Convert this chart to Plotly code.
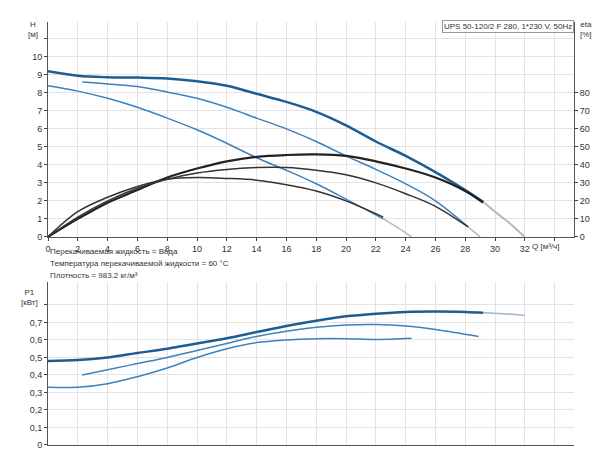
import plotly.graph_objects as go

# head curves H [m]
q_hmax = [0, 2, 4, 6, 8, 10, 12, 14, 16, 18, 20, 22, 24, 26, 28, 29.2]
h_max = [9.2, 8.95, 8.87, 8.85, 8.8, 8.65, 8.4, 7.95, 7.5, 6.95, 6.2, 5.3, 4.5, 3.6, 2.6, 1.95]
q_hmid = [2.3, 4, 6, 8, 10, 12, 14, 16, 18, 20, 22, 24, 26, 28.2]
h_mid = [8.6, 8.5, 8.35, 8.05, 7.7, 7.2, 6.6, 6.0, 5.3, 4.5, 3.75, 2.95, 2.0, 0.55]
q_hmin = [0, 2, 4, 6, 8, 10, 12, 14, 16, 18, 20, 22.5]
h_min = [8.4, 8.1, 7.7, 7.2, 6.6, 5.95, 5.2, 4.4, 3.7, 2.95, 2.1, 1.0]
# grey extensions
q_tmax = [29.2, 30, 31, 32]
h_tmax = [1.95, 1.4, 0.75, 0]
q_tmid = [28.2, 28.6, 29]
h_tmid = [0.55, 0.28, 0]
q_tmin = [22.5, 23.5, 24.4]
h_tmin = [1.0, 0.5, 0]

# efficiency eta [%]
q_emax = [0, 2, 4, 6, 8, 10, 12, 14, 16, 18, 20, 22, 24, 26, 28, 29.2]
e_max = [0, 10, 19, 26, 33, 38, 42, 44.5, 45.5, 45.8, 45, 42, 38, 33, 25.5, 19]
q_emid = [0, 2, 4, 6, 8, 10, 12, 14, 16, 18, 20, 22, 24, 26, 28.2]
e_mid = [0, 11, 20, 27, 32, 35.5, 37.5, 38.5, 38.5, 37, 34.5, 30, 24, 17, 5.5]
q_emin = [0, 2, 4, 6, 8, 10, 12, 14, 16, 18, 20, 22.5]
e_min = [0, 14, 22, 28, 32, 33, 32.5, 31.5, 29, 25.5, 20, 11]

# power P1 [kW]
q_pmax = [0, 2, 4, 6, 8, 10, 12, 14, 16, 18, 20, 22, 24, 26, 28, 29.2]
p_max = [0.48, 0.485, 0.5, 0.525, 0.55, 0.58, 0.61, 0.645, 0.68, 0.71, 0.735, 0.75, 0.76, 0.762, 0.76, 0.755]
q_ptail = [29.2, 30.5, 32]
p_tail = [0.755, 0.75, 0.74]
q_pmid = [2.3, 4, 6, 8, 10, 12, 14, 16, 18, 20, 22, 24, 26, 28.9]
p_mid = [0.40, 0.43, 0.465, 0.5, 0.54, 0.58, 0.62, 0.65, 0.672, 0.685, 0.688, 0.68, 0.66, 0.62]
q_pmin = [0, 2, 4, 6, 8, 10, 12, 14, 16, 18, 20, 22, 24.4]
p_min = [0.33, 0.33, 0.35, 0.39, 0.44, 0.5, 0.55, 0.585, 0.6, 0.607, 0.607, 0.603, 0.61]

dark = "#1d5d96"
light = "#3d82bd"
grey = "#b8b8b8"

fig = go.Figure()
def line(x, y, color, width, xa="x", ya="y"):
    fig.add_trace(go.Scatter(x=x, y=y, mode="lines", line=dict(color=color, width=width, shape="spline"),
                             xaxis=xa, yaxis=ya, showlegend=False, hoverinfo="skip"))

line(q_tmax, h_tmax, grey, 2)
line(q_tmid, h_tmid, grey, 1.5)
line(q_tmin, h_tmin, grey, 1.5)
line(q_hmax, h_max, dark, 2.5)
line(q_hmid, h_mid, light, 1.5)
line(q_hmin, h_min, light, 1.5)
line(q_emax, e_max, "#222222", 2.2, ya="y2")
line(q_emid, e_mid, "#333333", 1.5, ya="y2")
line(q_emin, e_min, "#333333", 1.5, ya="y2")
line(q_ptail, p_tail, "#9bb6cf", 1.5, xa="x2", ya="y3")
line(q_pmax, p_max, dark, 2.5, xa="x2", ya="y3")
line(q_pmid, p_mid, light, 1.5, xa="x2", ya="y3")
line(q_pmin, p_min, light, 1.5, xa="x2", ya="y3")

grid = "#e3e3e3"
font = dict(family="Liberation Sans, Arial", size=9, color="#333")
xticks = list(range(0, 36, 2))
fig.update_layout(
    width=600, height=450, margin=dict(l=40, r=34, t=14, b=13),
    plot_bgcolor="white", paper_bgcolor="white", font=font,
    xaxis=dict(range=[0, 35.3], tickvals=xticks, ticktext=[str(v) if v <= 32 else "" for v in xticks],
               showgrid=True, gridcolor=grid, showline=True, linecolor="#555", mirror=False,
               ticks="outside", ticklen=3, zeroline=False, anchor="y", automargin=False),
    yaxis=dict(domain=[0.492, 1], range=[0, 11.94], tickvals=list(range(12)),
               ticktext=[str(v) if v <= 10 else "" for v in range(12)],
               showgrid=True, gridcolor=grid, showline=True, linecolor="#555",
               ticks="outside", ticklen=3, zeroline=False, automargin=False),
    yaxis2=dict(overlaying="y", side="right", range=[0, 119.4], tickvals=list(range(0, 90, 10)),
                showgrid=False, showline=True, linecolor="#555", ticks="outside", ticklen=3, zeroline=False,
                anchor="x", automargin=False),
    xaxis2=dict(range=[0, 35.3], tickvals=xticks, showticklabels=False, showgrid=True, gridcolor=grid,
                showline=True, linecolor="#555", zeroline=False, anchor="y3", automargin=False),
    yaxis3=dict(domain=[0, 0.385], range=[0, 0.93], tickvals=[0, 0.1, 0.2, 0.3, 0.4, 0.5, 0.6, 0.7, 0.8],
                ticktext=["0", "0,1", "0,2", "0,3", "0,4", "0,5", "0,6", "0,7", ""],
                showgrid=True, gridcolor=grid, showline=True, linecolor="#555",
                ticks="outside", ticklen=3, zeroline=False, anchor="x2", automargin=False),
)

def txt(x, y, s, **kw):
    fig.add_annotation(x=x, y=y, xref="paper", yref="paper", text=s, showarrow=False,
                       font=dict(family="Liberation Sans, Arial", size=kw.pop("size", 8), color="#333"), **kw)

ph = 423.0
def py(pix):
    return (437 - pix) / ph
def px(pix):
    return (pix - 40) / 526.0

txt(px(32), py(10), "H<br>[м]", xanchor="right", yanchor="top", align="center")
txt(px(570), py(10), "eta<br>[%]", xanchor="left", yanchor="top", align="center")
txt(px(522), py(238), "Q [м³/ч]", xanchor="left", yanchor="middle")
txt(px(32), py(278), "P1<br>[кВт]", xanchor="right", yanchor="top", align="center")
txt(px(566), py(12), "UPS 50-120/2 F 280, 1*230 V, 50Hz", xanchor="right", yanchor="top",
    bordercolor="#999", borderwidth=1, bgcolor="white", borderpad=1)
txt(px(40), py(243), "Перекачиваемая жидкость = Вода", xanchor="left", yanchor="middle")
txt(px(40), py(255), "Температура перекачиваемой жидкости = 60 °C", xanchor="left", yanchor="middle")
txt(px(40), py(267), "Плотность = 983.2 кг/м³", xanchor="left", yanchor="middle")

fig.write_html("out.html")
